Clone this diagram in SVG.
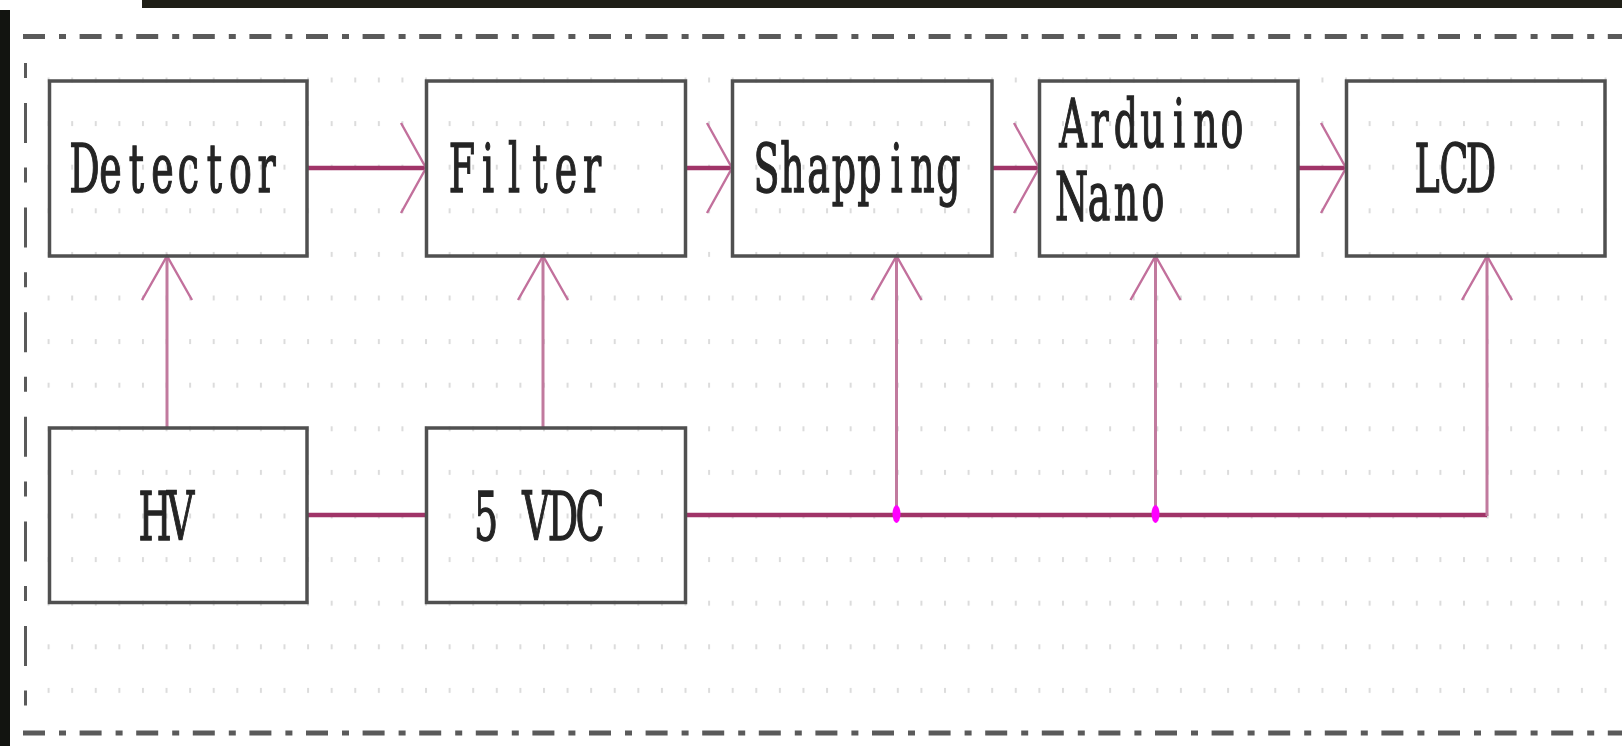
<svg xmlns="http://www.w3.org/2000/svg" width="1622" height="746" viewBox="0 0 1622 746">
<style>
.box{fill:none;stroke:#505050;stroke-width:3.5}
.lbl{font-family:"DejaVu Serif","Liberation Serif",serif;font-size:38px;fill:#242424;stroke:#242424;stroke-width:0.8;text-anchor:middle}
.h{stroke:#a03468;stroke-width:4.5;fill:none}
.v{stroke:#c17a9e;stroke-width:3;fill:none}
.ah{stroke:#c2709c;stroke-width:2.4;fill:none;stroke-linejoin:miter}
.dashh{stroke:#5a5a5a;stroke-width:5;fill:none;stroke-dasharray:22 14 7 13.6}
.dashv{stroke:#5a5a5a;stroke-width:3;fill:none;stroke-dasharray:15 25 40 24.6}
.jn{fill:#ff00ff}
</style>
<defs>
<pattern id="grid" x="24" y="33.9" width="23.59" height="43.6" patternUnits="userSpaceOnUse">
<rect x="0" y="0" width="2" height="5" fill="#dcdcdc"/>
</pattern>
</defs>
<rect width="1622" height="746" fill="#ffffff"/>
<rect x="40" y="70" width="1582" height="630" fill="url(#grid)"/>
<g id="frame">
<rect x="142" y="0" width="1480" height="8" fill="#1f1f17"/>
<rect x="0" y="10" width="10" height="736" fill="#121410"/>
<line class="dashh" x1="23" y1="36.5" x2="1622" y2="36.5"/>
<line class="dashh" x1="23" y1="733" x2="1622" y2="733"/>
<line class="dashv" x1="25.5" y1="63" x2="25.5" y2="706"/>
</g>
<g id="connectors">
<line class="h" x1="307" y1="168" x2="426" y2="168"/>
<polyline class="ah" points="401,123 426,168 401,213"/>
<line class="h" x1="686" y1="168" x2="732" y2="168"/>
<polyline class="ah" points="707,123 732,168 707,213"/>
<line class="h" x1="992" y1="168" x2="1039" y2="168"/>
<polyline class="ah" points="1014,123 1039,168 1014,213"/>
<line class="h" x1="1298" y1="168" x2="1346" y2="168"/>
<polyline class="ah" points="1321,123 1346,168 1321,213"/>
<line class="v" x1="167" y1="427" x2="167" y2="256"/>
<polyline class="ah" points="142,300 167,256 192,300"/>
<line class="v" x1="543" y1="427" x2="543" y2="256"/>
<polyline class="ah" points="518,300 543,256 568,300"/>
<line class="h" x1="307" y1="515" x2="426" y2="515"/>
<line class="h" x1="686" y1="515" x2="1487" y2="515"/>
<line class="v" x1="896.5" y1="515" x2="896.5" y2="256"/>
<polyline class="ah" points="871.5,300 896.5,256 921.5,300"/>
<line class="v" x1="1155.5" y1="515" x2="1155.5" y2="256"/>
<polyline class="ah" points="1130.5,300 1155.5,256 1180.5,300"/>
<line class="v" x1="1487" y1="516" x2="1487" y2="256"/>
<polyline class="ah" points="1462,300 1487,256 1512,300"/>
<ellipse class="jn" cx="896.5" cy="514" rx="4" ry="9"/>
<ellipse class="jn" cx="1155.5" cy="514" rx="4" ry="9"/>
</g>
<g id="detector">
<rect class="box" x="49.5" y="81" width="257.5" height="175"/>
<text class="lbl" transform="translate(0,192) scale(1,1.79)" x="84.5 110.5 136.5 162.5 188.5 214.5 240.5 266.5" y="0">Detector</text>
</g>
<g id="filter">
<rect class="box" x="426.5" y="81" width="259" height="175"/>
<text class="lbl" transform="translate(0,192) scale(1,1.79)" x="462 488 514 540 566 592" y="0">Filter</text>
</g>
<g id="shapping">
<rect class="box" x="732.5" y="81" width="259.5" height="175"/>
<text class="lbl" transform="translate(0,192) scale(1,1.79)" x="766.5 792.5 818.5 844 869.5 896.5 922.5 948.5" y="0">Shapping</text>
</g>
<g id="arduino">
<rect class="box" x="1039.5" y="81" width="258.5" height="175"/>
<text class="lbl" transform="translate(0,147) scale(1,1.79)"><tspan x="1073 1099.5 1126 1152.5 1179 1205.5 1232" y="0">Arduino</tspan><tspan x="1071.5 1099 1126 1153" y="40.8">Nano</tspan></text>
</g>
<g id="lcd">
<rect class="box" x="1346.5" y="81" width="258.5" height="175"/>
<text class="lbl" transform="translate(0,192) scale(1,1.79)" x="1427 1454 1481" y="0">LCD</text>
</g>
<g id="hv">
<rect class="box" x="49.5" y="428" width="257.5" height="174.5"/>
<text class="lbl" transform="translate(0,540) scale(1,1.79)" x="155 180.5" y="0">HV</text>
</g>
<g id="vdc">
<rect class="box" x="426.5" y="428" width="259" height="174.5"/>
<text class="lbl" transform="translate(0,540) scale(1,1.79)" x="486 511 536 563 590" y="0">5 VDC</text>
</g>
</svg>
